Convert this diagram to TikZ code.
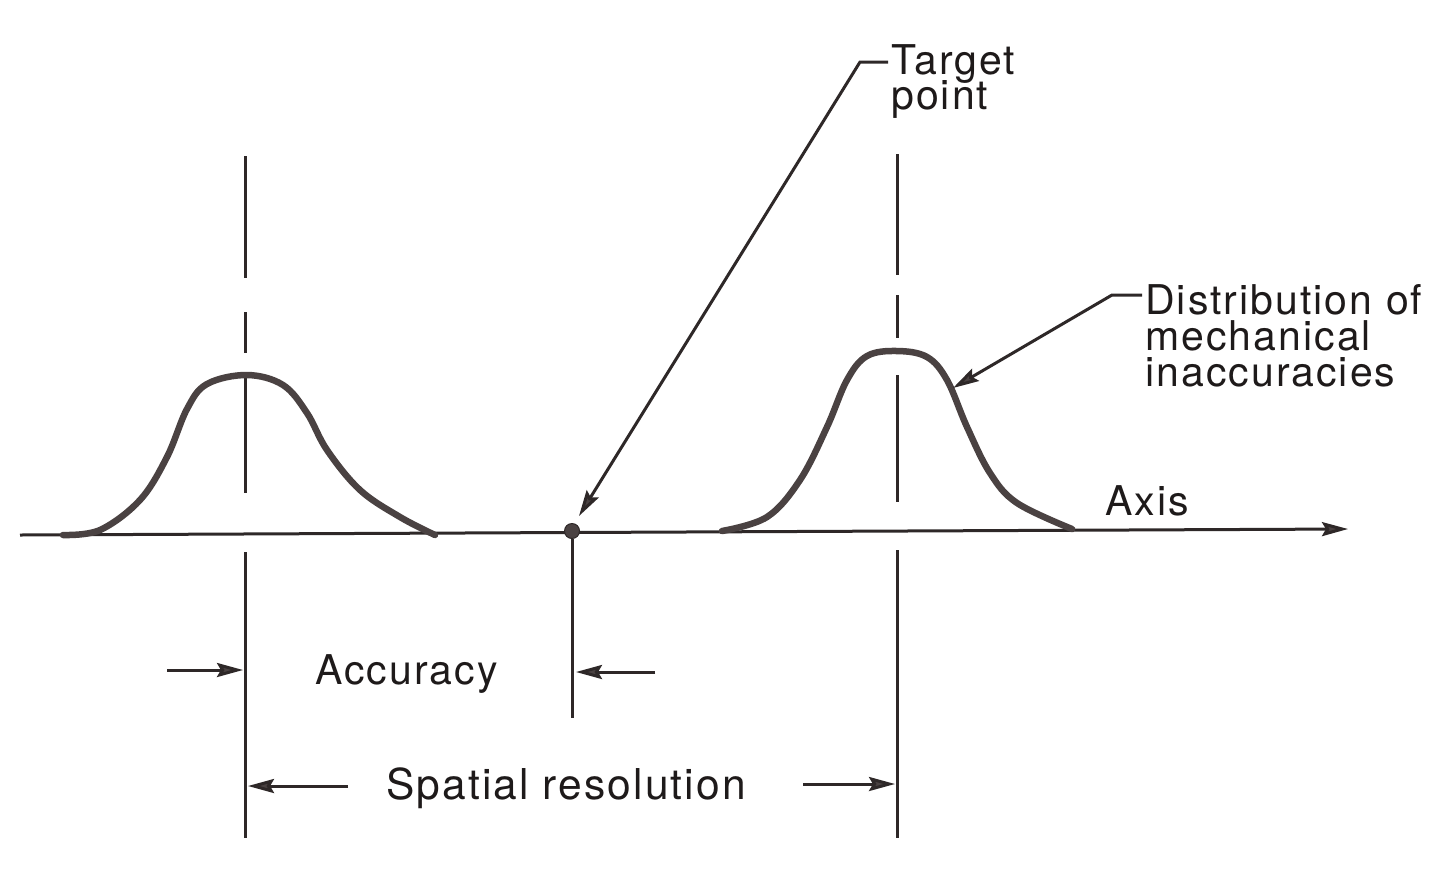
\documentclass[tikz,border=0pt]{standalone}
\usepackage{fontspec}
\setmainfont{TeX Gyre Heros}[LetterSpace=5]
\usetikzlibrary{arrows.meta}
\definecolor{ink}{HTML}{2E2828}
\definecolor{curvecol}{HTML}{4A4242}
\definecolor{txt}{HTML}{1E1A1A}
\begin{document}
\begin{tikzpicture}[x=1pt,y=-1pt,
  lbl/.style={inner sep=0pt, anchor=base west, font=\fontsize{41}{50}\selectfont, text=txt},
  stack/.style={lbl, text height=28pt, text depth=2pt},
  thinline/.style={line width=3pt, draw=ink},
  distcurve/.style={line width=6.5pt, draw=curvecol, line cap=round, line join=round},
  tip/.style={-{Stealth[length=26pt,width=14pt,inset=4pt,fill=curvecol]}, line width=3pt, draw=ink}]
\useasboundingbox (0,0) rectangle (1450,868);
\fill[white] (0,0) rectangle (1450,868);

% axis
\coordinate (ax0) at (20,535);
\coordinate (ax1) at (1348,529);
\draw[tip] (ax0) -- (ax1);
\node[lbl] (axis) at (1105,515) {Axis};

% left centre line (dash-dot)
\draw[thinline] (245,156) -- (245,278);
\draw[thinline] (245,312) -- (245,353);
\draw[thinline] (245,377) -- (245,493);
\draw[thinline] (245,552) -- (245,838);

% right centre line (dash-dot)
\draw[thinline] (897,154) -- (897,275);
\draw[thinline] (897,295) -- (897,338);
\draw[thinline] (897,375) -- (897,502);
\draw[thinline] (897,550) -- (897,838);

% distributions
\draw[distcurve] plot[smooth, tension=0.6] coordinates {(63,535) (100,530) (140,500) (167,457) (187,409) (207,384) (247,375) (283,385) (307,413) (327,450) (360,490) (400,517) (435,535)};
\draw[distcurve] plot[smooth, tension=0.6] coordinates {(722,531) (767,517) (800,480) (827,427) (847,380) (867,356) (897,351) (927,357) (947,380) (967,427) (990,473) (1017,503) (1072,529)};

% target point
\node[circle, fill=curvecol, draw=ink, line width=1pt, minimum size=15pt, inner sep=0pt] (tp) at (572,531) {};
\coordinate (tpbot) at (572,718);
\draw[thinline] (tp.south) -- (tpbot);

% target label and leader
\node[stack] (tgt1) at (891,74) {Target};
\node[stack] (tgt2) at (891,109) {point};
\coordinate (tgtk) at (860,62);
\coordinate (tgttip) at (579,516);
\draw[tip] ([xshift=-3pt,yshift=12pt]tgt1.base west) -- (tgtk) -- (tgttip);

% distribution label and leader
\node[stack] (d1) at (1145,314) {Distribution of};
\node[stack] (d2) at (1145,350) {mechanical};
\node[stack] (d3) at (1145,386) {inaccuracies};
\coordinate (dk) at (1112,295);
\coordinate (dtip) at (953,388);
\draw[tip] ([xshift=-3pt,yshift=19pt]d1.base west) -- (dk) -- (dtip);

% accuracy
\node[lbl] (acc) at (315,684) {Accuracy};
\coordinate (accL0) at (167,670);
\coordinate (accL1) at (243,670);
\coordinate (accR0) at (655,672);
\coordinate (accR1) at (576,672);
\draw[tip] (accL0) -- (accL1);
\draw[tip] (accR0) -- (accR1);

% spatial resolution
\node[lbl, font=\fontsize{42.5}{50}\selectfont] (sr) at (386,799) {Spatial resolution};
\coordinate (srL0) at (348,786);
\coordinate (srL1) at (248,786);
\coordinate (srR0) at (803,784);
\coordinate (srR1) at (895,784);
\draw[tip] (srL0) -- (srL1);
\draw[tip] (srR0) -- (srR1);
\end{tikzpicture}
\end{document}
